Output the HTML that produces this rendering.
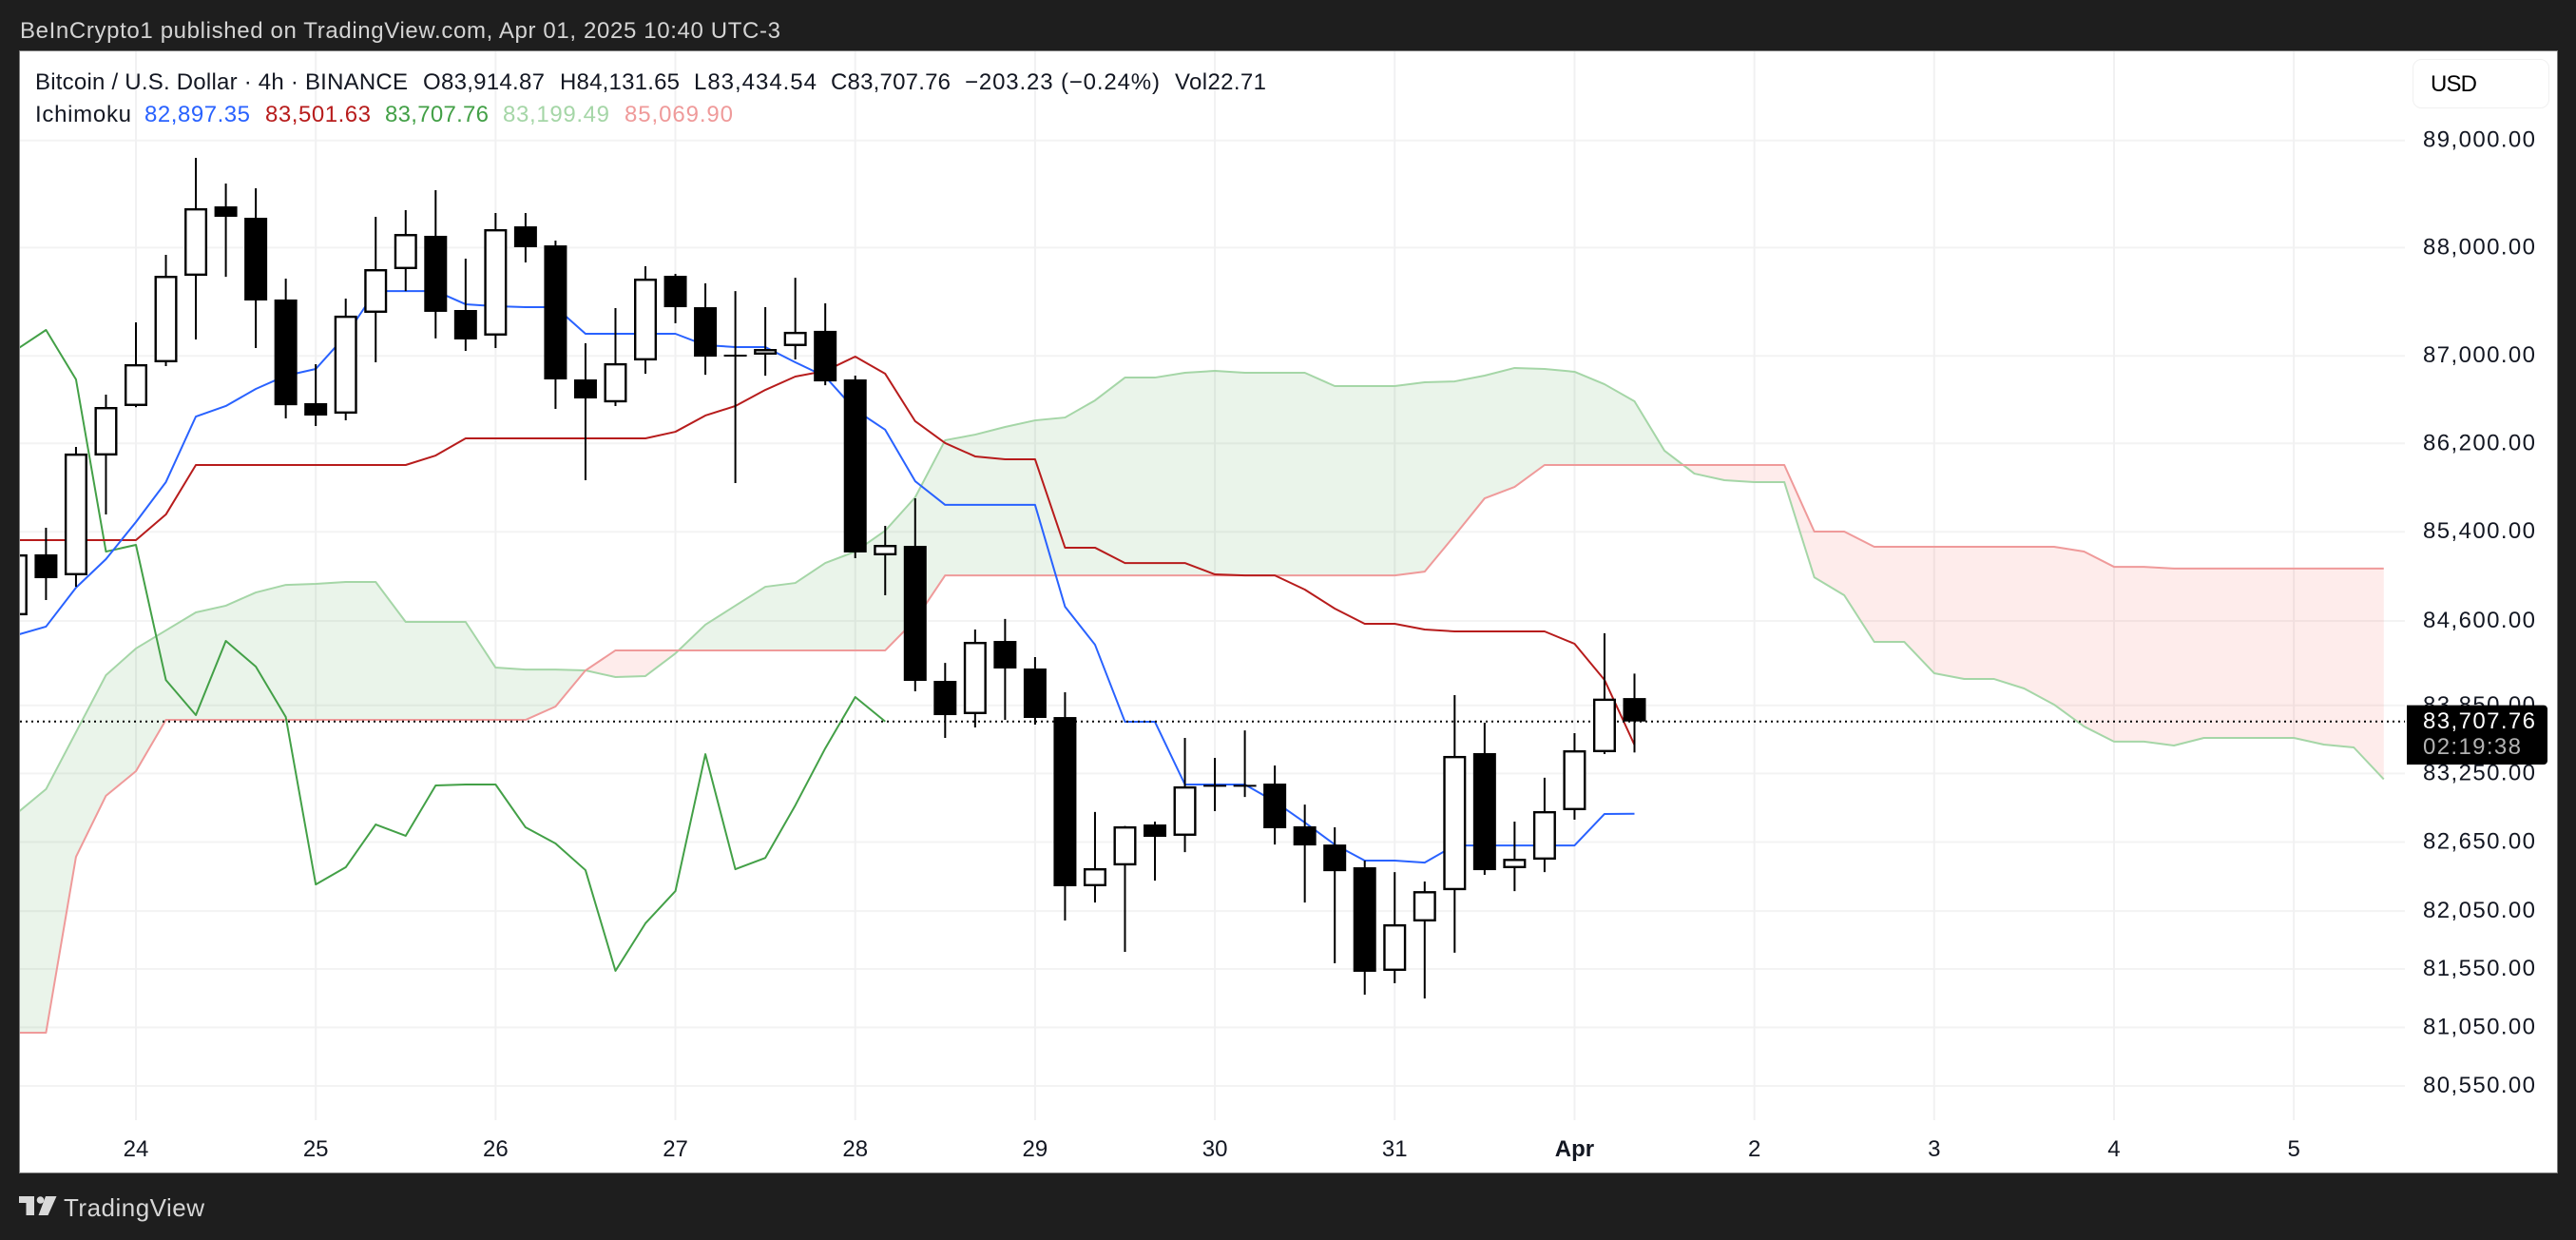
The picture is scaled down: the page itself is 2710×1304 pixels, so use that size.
<!DOCTYPE html>
<html lang="en">
<head>
<meta charset="utf-8">
<title>Bitcoin / U.S. Dollar 4h Ichimoku</title>
<style>
html,body{margin:0;padding:0;background:#1e1e1e;width:2710px;height:1304px;overflow:hidden;}
svg{display:block;}
text{font-family:"Liberation Sans",sans-serif;font-size:24px;fill:#131722;}
</style>
</head>
<body>
<svg id="chart" xmlns="http://www.w3.org/2000/svg" width="2710" height="1304" viewBox="0 0 2710 1304">
  <defs><clipPath id="plot-clip"><rect x="21" y="54" width="2509" height="1124"></rect></clipPath></defs>
  <rect x="0" y="0" width="2710" height="1304" fill="#1e1e1e"></rect>
  <text x="21" y="40" textLength="800" lengthAdjust="spacing" style="fill:#d4d4d4">BeInCrypto1 published on TradingView.com, Apr 01, 2025 10:40 UTC-3</text>
  <rect x="20.5" y="53.5" width="2670" height="1180" fill="#ffffff" stroke="#7c7c7c" stroke-width="1"></rect>
  <g id="grid"></g>
  <g clip-path="url(#plot-clip)">
    <g id="cloud"></g>
    <g id="lines"></g>
    <g id="price-line"></g>
    <g id="candles"></g>
  </g>
  <g id="y-axis"></g>
  <g id="x-axis"></g>

  <g>
    <text x="37" y="94" textLength="392" lengthAdjust="spacing">Bitcoin / U.S. Dollar · 4h · BINANCE</text>
    <text x="445" y="94" textLength="128" lengthAdjust="spacing">O83,914.87</text>
    <text x="589" y="94" textLength="126" lengthAdjust="spacing">H84,131.65</text>
    <text x="730" y="94" textLength="129" lengthAdjust="spacing">L83,434.54</text>
    <text x="874" y="94" textLength="126" lengthAdjust="spacing">C83,707.76</text>
    <text x="1015" y="94" textLength="205" lengthAdjust="spacing">−203.23 (−0.24%)</text>
    <text x="1236" y="94" textLength="96" lengthAdjust="spacing">Vol22.71</text>
    <text x="37" y="128" textLength="101" lengthAdjust="spacing">Ichimoku</text>
    <text x="152" y="128" textLength="111" lengthAdjust="spacing" style="fill:#2962ff">82,897.35</text>
    <text x="279" y="128" textLength="111" lengthAdjust="spacing" style="fill:#b71c1c">83,501.63</text>
    <text x="405" y="128" textLength="109" lengthAdjust="spacing" style="fill:#43a047">83,707.76</text>
    <text x="529" y="128" textLength="112" lengthAdjust="spacing" style="fill:#a5d6a7">83,199.49</text>
    <text x="657" y="128" textLength="114" lengthAdjust="spacing" style="fill:#ef9a9a">85,069.90</text>
  </g>

  <g>
    <rect x="2538.5" y="62.5" width="143" height="51" rx="9" fill="#ffffff" stroke="#f0f0f0" stroke-width="1"></rect>
    <text x="2557" y="96" textLength="49" lengthAdjust="spacing" style="fill:#000000">USD</text>
  </g>

  <g>
    <path d="M2532 741.6H2676a4 4 0 0 1 4 4V800a4 4 0 0 1 -4 4H2532Z" fill="#000000"></path>
    <text x="2549" y="766" textLength="118" lengthAdjust="spacing" style="fill:#ffffff">83,707.76</text>
    <text x="2549" y="793" textLength="103" lengthAdjust="spacing" style="fill:#b2b2b2">02:19:38</text>
  </g>

  <g>
    <path d="M20 1258H36V1278H27.5V1265H20Z" fill="#d9d9d9"></path>
    <circle cx="42.5" cy="1262" r="3.8" fill="#d9d9d9"></circle>
    <path d="M48 1258H59.5L50.5 1278H40.5Z" fill="#d9d9d9"></path>
    <text x="67" y="1279" textLength="148" lengthAdjust="spacing" style="font-size:26px;fill:#d6d6d6">TradingView</text>
  </g>
</svg>

<script>
// Bar number of the first array entry; day 24 00:00 is bar 0, bars are 4h.
const firstBar = -4;
const barsPerDay = 6;

const dayLabels = ["24","25","26","27","28","29","30","31","Apr","2","3","4","5"];
const boldDayLabels = ["Apr"];
const priceTicks = [89000,88000,87000,86200,85400,84600,83850,83250,82650,82050,81550,81050,80550];
const lastPrice = 83707.76;

const opens = [84651,85197,85009,86090,86541,86941,87738,88383,88277,87519,86567,86471,87396,87800,88109,87422,87186,88197,88020,86784,86574,86958,87738,87448,87011,87011,87090,87230,86784,85188,85273,84067,83773,84422,84177,83747,82265,82446,82803,82704,83150,83150,83161,82787,82628,82430,81534,81960,82231,83429,82422,82496,82928,83437,83914.87];
const highs = [85265,85436,86168,86645,87308,87932,88837,88596,88552,87712,86924,87527,88286,88348,88534,87897,88321,88321,88065,87116,87440,87826,87756,87668,87597,87448,87720,87484,86819,85453,85702,84227,84524,84618,84278,83966,82912,82790,82828,83563,83387,83629,83320,82977,82778,82488,82388,82306,83941,83697,82828,83212,83605,84490,84131.65];
const lows = [84584,84787,84906,85556,86530,86906,87151,87729,87072,86428,86358,86410,86941,87597,87160,87046,87072,87862,86515,85866,86541,86836,87300,86827,85840,86818,86967,86731,85162,84830,83975,83563,83655,83722,83680,81968,82124,81698,82314,82562,82920,83044,82628,82124,81599,81330,81428,81297,81690,82364,82223,82388,82845,83420,83434.54];
const closes = [85197,84983,86108,86532,86924,87738,88366,88286,87510,86548,86454,87370,87800,88126,87405,87151,88171,88003,86784,86610,86933,87712,87448,86993,86993,87063,87221,86766,85214,85282,84067,83764,84414,84177,83739,82265,82422,82787,82695,83137,83145,83145,82770,82620,82396,81526,81936,82223,83404,82405,82504,82920,83454,83910,83707.76];

const tenkan = [84473,84550,84898,85154,85488,85849,86445,86541,86697,86818,86880,87186,87597,87597,87597,87475,87457,87448,87448,87203,87203,87203,87203,87098,87081,87081,86941,86810,86506,86324,85857,85643,85643,85643,85643,84728,84389,83705,83705,83153,83153,83153,83003,82820,82628,82488,82488,82471,82620,82620,82620,82620,82620,82895,82897.35];
const kijun = [85325,85325,85325,85325,85325,85556,86004,86004,86004,86004,86004,86004,86004,86004,86090,86246,86246,86246,86246,86246,86246,86246,86306,86454,86541,86688,86810,86862,86993,86836,86402,86203,86082,86056,86056,85257,85257,85119,85119,85119,85017,85008,85008,84881,84711,84575,84575,84524,84507,84507,84507,84507,84397,84076,83501.63];
const chikou = [87055,87238,86784,85222,85282,84075,83764,84422,84194,83747,82281,82430,82803,82704,83145,83153,83153,82778,82637,82405,81534,81944,82223,83420,82413,82512,82970,83471,83924,83707.76];
const spanA = [82895,83112,83613,84118,84355,84516,84677,84737,84855,84923,84932,84949,84949,84592,84592,84592,84185,84168,84168,84160,84101,84110,84311,84567,84737,84906,84940,85119,85222,85410,85711,86229,86280,86350,86410,86436,86592,86801,86801,86845,86862,86845,86845,86845,86723,86723,86723,86758,86766,86819,86889,86880,86854,86740,86584,86134,85926,85866,85849,85849,84991,84830,84414,84414,84135,84084,84084,84000,83857,83664,83530,83530,83496,83563,83563,83563,83563,83504,83479,83199.49];
const spanB = [81004,81004,82521,83054,83270,83722,83722,83722,83722,83722,83722,83722,83722,83722,83722,83722,83722,83722,83840,84160,84338,84338,84338,84338,84338,84338,84338,84338,84338,84338,84609,85008,85008,85008,85008,85008,85008,85008,85008,85008,85008,85008,85008,85008,85008,85008,85008,85042,85367,85702,85805,86004,86004,86004,86004,86004,86004,86004,86004,86004,85402,85402,85265,85265,85265,85265,85265,85265,85265,85222,85085,85085,85069.9,85069.9,85069.9,85069.9,85069.9,85069.9,85069.9,85069.9];

const SVGNS = "http://www.w3.org/2000/svg";
function xOf(bar){ return 143 + 31.53 * bar; }
function yOf(price){ return 147.7 + 9967 * Math.log(89000 / price); }
function make(tag, parent, attrs){
  const el = document.createElementNS(SVGNS, tag);
  for (const k in attrs) el.setAttribute(k, attrs[k]);
  parent.appendChild(el);
  return el;
}
function fmt(v){
  return v.toLocaleString("en-US",{minimumFractionDigits:2,maximumFractionDigits:2});
}

// Grid and axes
const gridG = document.getElementById("grid");
const yAxisG = document.getElementById("y-axis");
const xAxisG = document.getElementById("x-axis");
priceTicks.forEach(function(tick){
  const y = yOf(tick);
  const line = make("line", gridG, {x1:21,x2:2530,y1:y,y2:y,stroke:"#f3f3f3","stroke-width":2});
  
  
  const label = make("text", yAxisG, {x:2549,y:y+7,textLength:118,lengthAdjust:"spacing"});
  label.textContent = fmt(tick);
  
  
});
dayLabels.forEach(function(day, n){
  const x = xOf(n * barsPerDay);
  const line = make("line", gridG, {x1:x,x2:x,y1:54,y2:1178,stroke:"#f1f1f2","stroke-width":2});
  
  
  const label = make("text", xAxisG, {x:x,y:1216,"text-anchor":"middle"});
  if (boldDayLabels.indexOf(day) >= 0) label.setAttribute("font-weight","bold");
  label.textContent = day;
  
  
});

// Cloud: fill between the leading spans, split at crossings
const cloudG = document.getElementById("cloud");
function flushRun(run){
  if (run.a.length < 2) return;
  const pts = run.a.concat(run.b.slice().reverse()).map(function(p){ return p[0].toFixed(2)+","+p[1].toFixed(2); }).join(" ");
  const poly = make("polygon", cloudG, {points:pts, fill: run.up ? "rgba(67,160,71,0.115)" : "rgba(244,67,54,0.1)"});
  
  
}
(function(){
  let run = null;
  for (let k = 0; k < spanA.length; k++){
    const x = xOf(firstBar + k), ya = yOf(spanA[k]), yb = yOf(spanB[k]);
    const up = spanA[k] >= spanB[k];
    if (!run) run = {up:up,a:[],b:[]};
    if (up !== run.up){
      const px = xOf(firstBar + k - 1), pa = yOf(spanA[k-1]), pb = yOf(spanB[k-1]);
      const t = (pb - pa) / ((ya - pa) - (yb - pb));
      const cx = px + t * (x - px), cy = pa + t * (ya - pa);
      run.a.push([cx,cy]); run.b.push([cx,cy]);
      flushRun(run);
      run = {up:up,a:[[cx,cy]],b:[[cx,cy]]};
    }
    run.a.push([x,ya]); run.b.push([x,yb]);
  }
  flushRun(run);
})();

// Ichimoku lines
const linesG = document.getElementById("lines");
function drawLine(values, color, name){
  const pts = values.map(function(v,k){ return xOf(firstBar + k).toFixed(2)+","+yOf(v).toFixed(2); }).join(" ");
  const pl = make("polyline", linesG, {points:pts,fill:"none",stroke:color,"stroke-width":2,"stroke-linejoin":"round"});
  
  
}
drawLine(spanA, "#a5d6a7", "leading-span-a");
drawLine(spanB, "#ef9a9a", "leading-span-b");
drawLine(chikou, "#43a047", "lagging-span");
drawLine(kijun, "#b71c1c", "base-line");
drawLine(tenkan, "#2962ff", "conversion-line");

// Last price dotted line
(function(){
  const y = yOf(lastPrice);
  const l = make("line", document.getElementById("price-line"), {x1:21,x2:2530,y1:y,y2:y,stroke:"#000000","stroke-width":2,"stroke-dasharray":"2 4"});
  
  
})();

// Candles
const candlesG = document.getElementById("candles");
opens.forEach(function(open, k){
  const x = xOf(firstBar + k);
  const close = closes[k];
  const wick = make("line", candlesG, {x1:x,x2:x,y1:yOf(highs[k]),y2:yOf(lows[k]),stroke:"#000000","stroke-width":2});
  
  
  const top = yOf(Math.max(open, close));
  const bottom = yOf(Math.min(open, close));
  let body;
  if (close >= open){
    body = make("rect", candlesG, {x:x-10.8,y:top+1.2,width:21.6,height:Math.max(bottom-top-2.4,0.5),fill:"#ffffff",stroke:"#000000","stroke-width":2.4});
  } else {
    body = make("rect", candlesG, {x:x-12,y:top,width:24,height:Math.max(bottom-top,2),fill:"#000000"});
    if (bottom - top < 3){
      body.setAttribute("x", x-12);
      body.setAttribute("height", 2);
    }
  }
  
  
});
</script>
</body>
</html>
